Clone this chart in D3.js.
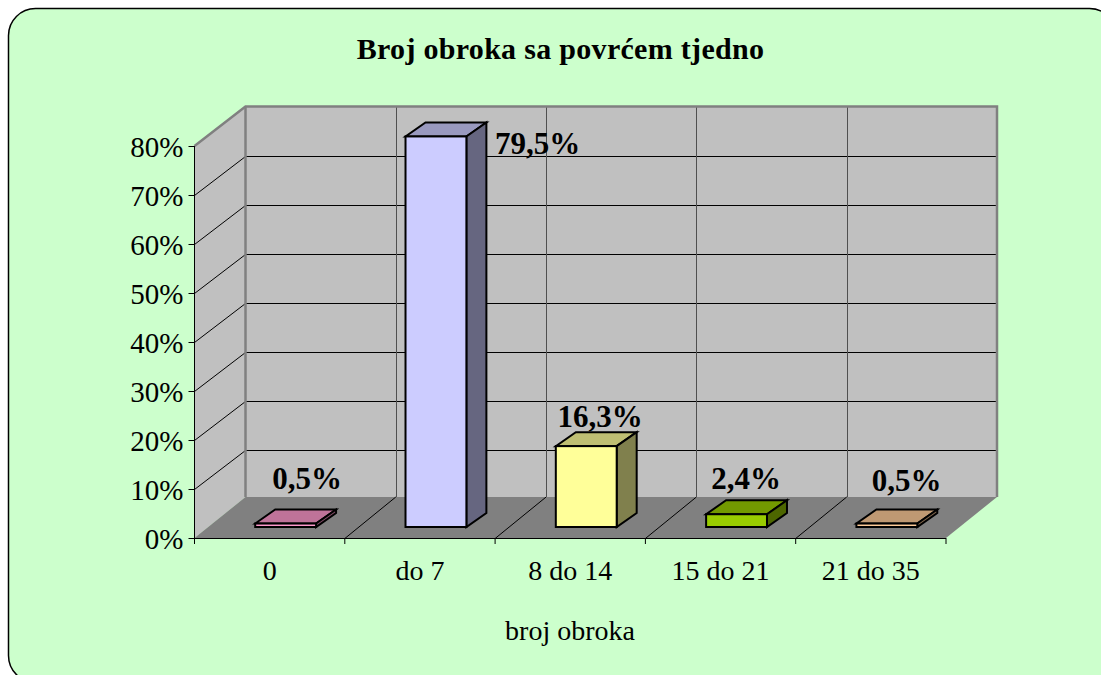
<!DOCTYPE html>
<html>
<head>
<meta charset="utf-8">
<script src="https://cdnjs.cloudflare.com/ajax/libs/d3/7.8.5/d3.min.js"></script>
<style>
  html, body { margin: 0; padding: 0; background: #fff; overflow: hidden; }
  svg { display: block; }
  text { font-family: "Liberation Serif", serif; fill: #000; }
</style>
</head>
<body>
<script>
const categories = ["0", "do 7", "8 do 14", "15 do 21", "21 do 35"]
const values = [0.5, 79.5, 16.3, 2.4, 0.5]
const valueLabels = ["0,5%", "79,5%", "16,3%", "2,4%", "0,5%"]
const yTicks = [0, 10, 20, 30, 40, 50, 60, 70, 80]
const frontColors = ["#ff99cc", "#ccccff", "#ffff99", "#99cc00", "#ffcc99"]
const topColors = ["#bf7399", "#9999bf", "#bfbf73", "#739900", "#bf9973"]
const sideColors = ["#804d66", "#666680", "#80804d", "#4d6600", "#80664d"]
const chartTitle = "Broj obroka sa povrćem tjedno"
const xTitle = "broj obroka"

const width = 1101
const height = 675
// front edge of the floor and the 3d offset to the back wall
const plot = { left: 194.5, right: 946, top: 146, bottom: 538 }
const depth = { x: 51, y: -39.5 }
const floorBack = 497
// bar base offset from the front edge, and the offset of the bar's own depth
const barBase = { x: 16, y: -12 }
const barDepth = { x: 20, y: -14 }
// hand placed labels, the way the original chart had them [centre x, baseline y]
const labelPos = [[307, 489], [537.5, 154], [600, 427], [746, 489], [906.5, 491]]

const x = d3.scaleBand().domain(categories).range([plot.left, plot.right]).paddingInner(0).paddingOuter(0)
const y = d3.scaleLinear().domain([0, 80]).range([plot.bottom, plot.top])
const barWidth = x.step() * 0.405

const svg = d3.select("body").append("svg")
    .attr("width", width)
    .attr("height", height)

svg.append("rect")
    .attr("x", 8.5)
    .attr("y", 8.5)
    .attr("width", 1108)
    .attr("height", 674)
    .attr("rx", 27)
    .attr("fill", "#ccffcc")
    .attr("stroke", "#000")
    .attr("stroke-width", 1.5)

const poly = (pts) => pts.map(p => p.join(",")).join(" ")

const backTop = y(80) + depth.y
const backX = [plot.left + depth.x, plot.right + depth.x]

// walls and floor
const walls = svg.append("g").attr("class", "walls")
walls.append("polygon")
    .attr("points", poly([[plot.left, y(0)], [plot.left, y(80)], [backX[0], backTop], [backX[0], floorBack]]))
    .attr("fill", "#c0c0c0")
walls.append("rect")
    .attr("x", backX[0])
    .attr("y", backTop)
    .attr("width", backX[1] - backX[0])
    .attr("height", floorBack - backTop)
    .attr("fill", "#c0c0c0")
walls.append("polygon")
    .attr("points", poly([[plot.left, y(0)], [plot.right, y(0)], [backX[1], floorBack], [backX[0], floorBack]]))
    .attr("fill", "#808080")

// grid
const grid = svg.append("g").attr("class", "grid").attr("fill", "none")
grid.selectAll("path.h")
    .data(yTicks.filter(d => d > 0 && d < 80))
    .join("path")
    .attr("class", "h")
    .attr("stroke", "#000")
    .attr("d", d => {
        const py = Math.round(y(d)) + 0.5
        const by = Math.round(y(d) + depth.y) + 0.5
        return `M${plot.left},${py}L${backX[0]},${by}H${backX[1]}`
    })
const edges = categories.map((c, i) => plot.left + x.step() * (i + 1))
grid.selectAll("path.v")
    .data(edges.slice(0, -1))
    .join("path")
    .attr("class", "v")
    .attr("stroke", "#000")
    .attr("d", d => `M${d},${plot.bottom + 0.5}L${d + depth.x},${floorBack}`)
grid.selectAll("line.v")
    .data(edges.slice(0, -1))
    .join("line")
    .attr("class", "v")
    .attr("stroke", "#505050")
    .attr("x1", d => Math.round(d + depth.x) + 0.5)
    .attr("x2", d => Math.round(d + depth.x) + 0.5)
    .attr("y1", backTop)
    .attr("y2", floorBack)

// grey wall outline
grid.append("path")
    .attr("stroke", "#808080")
    .attr("stroke-width", 2.5)
    .attr("d", `M${plot.left},${y(80)}L${backX[0]},${backTop}H${backX[1]}V${floorBack}`)
grid.append("path")
    .attr("stroke", "#808080")
    .attr("stroke-width", 2.5)
    .attr("d", `M${backX[0]},${backTop}V${floorBack}`)
grid.append("path")
    .attr("stroke", "#000")
    .attr("d", `M${plot.left},${plot.top}V${plot.bottom + 0.5}H${plot.right}`)

// bars
const rows = categories.map((c, i) => ({
    category: c, value: values[i], label: valueLabels[i],
    front: frontColors[i], top: topColors[i], side: sideColors[i], pos: labelPos[i]
}))
const bars = svg.append("g").attr("class", "bars")
    .selectAll("g")
    .data(rows)
    .join("g")
    .attr("stroke", "#000")
    .attr("stroke-width", 2)
    .attr("stroke-linejoin", "miter")

const bx0 = d => x(d.category) + (x.bandwidth() - barWidth) / 2 + barBase.x
const bx1 = d => bx0(d) + barWidth
const by0 = () => y(0) + barBase.y + 1
const by1 = d => y(d.value) + barBase.y

bars.append("polygon")
    .attr("fill", d => d.top)
    .attr("points", d => poly([[bx0(d), by1(d)], [bx1(d), by1(d)], [bx1(d) + barDepth.x, by1(d) + barDepth.y], [bx0(d) + barDepth.x, by1(d) + barDepth.y]]))
bars.append("polygon")
    .attr("fill", d => d.side)
    .attr("points", d => poly([[bx1(d), by1(d)], [bx1(d), by0()], [bx1(d) + barDepth.x, by0() + barDepth.y], [bx1(d) + barDepth.x, by1(d) + barDepth.y]]))
bars.append("rect")
    .attr("fill", d => d.front)
    .attr("x", bx0)
    .attr("y", by1)
    .attr("width", barWidth)
    .attr("height", d => by0() - by1(d))

// value labels
svg.append("g").attr("class", "labels")
    .selectAll("text")
    .data(rows)
    .join("text")
    .attr("x", d => d.pos[0])
    .attr("y", d => d.pos[1])
    .attr("font-size", 31)
    .attr("font-weight", "bold")
    .attr("text-anchor", "middle")
    .text(d => d.label)

// axes
const yAxis = svg.append("g")
    .attr("transform", `translate(${plot.left},0)`)
    .call(d3.axisLeft(y).tickValues(yTicks).tickFormat(d => d + "%").tickSize(6).tickPadding(5))
yAxis.select(".domain").remove()
yAxis.selectAll("text").attr("font-size", 29).attr("dy", "0.36em")

const xAxis = svg.append("g")
    .attr("transform", `translate(0,${plot.bottom})`)
    .call(d3.axisBottom(x).tickSize(0).tickPadding(22))
xAxis.select(".domain").remove()
xAxis.selectAll("text").attr("font-size", 28)
svg.append("g").selectAll("line")
    .data([plot.left].concat(edges))
    .join("line")
    .attr("stroke", "#000")
    .attr("x1", d => d).attr("x2", d => d)
    .attr("y1", plot.bottom).attr("y2", plot.bottom + 6)

svg.append("text")
    .attr("x", 560.5)
    .attr("y", 59)
    .attr("text-anchor", "middle")
    .attr("font-size", 30)
    .attr("font-weight", "bold")
    .attr("letter-spacing", 0.3)
    .text(chartTitle)

svg.append("text")
    .attr("x", 570)
    .attr("y", 640)
    .attr("text-anchor", "middle")
    .attr("font-size", 28)
    .text(xTitle)
</script>
</body>
</html>
